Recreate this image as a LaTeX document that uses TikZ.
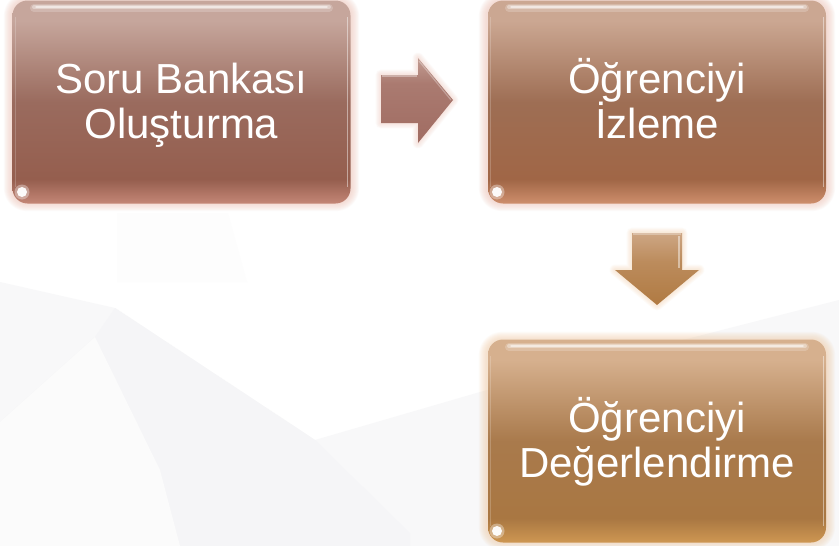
\documentclass[tikz,border=0pt]{standalone}
\usepackage{fontspec}
\setmainfont{Liberation Sans}
\usetikzlibrary{calc}
\definecolor{bgA}{HTML}{F8F8F9}
\definecolor{bgB}{HTML}{F5F5F7}
% box 1 colours
\definecolor{aTop}{HTML}{C6A69C}
\definecolor{aMid}{HTML}{9A6B5E}
\definecolor{aLow}{HTML}{955E4E}
\definecolor{aBot}{HTML}{C48676}
% box 2 colours
\definecolor{bTop}{HTML}{CBA792}
\definecolor{bMid}{HTML}{9E6E54}
\definecolor{bLow}{HTML}{A06646}
\definecolor{bBot}{HTML}{CE8E6C}
% box 3 colours
\definecolor{cTop}{HTML}{D6B08E}
\definecolor{cMid}{HTML}{A97A4C}
\definecolor{cLow}{HTML}{A97742}
\definecolor{cBot}{HTML}{CE9752}
% arrows
\definecolor{rTop}{HTML}{C29C92}
\definecolor{rBot}{HTML}{A06C62}
\definecolor{dTop}{HTML}{CDA684}
\definecolor{dBot}{HTML}{B07A42}
\definecolor{glowA}{HTML}{EFC3B6}
\definecolor{glowC}{HTML}{F2CDA8}
\pgfdeclareverticalshading{shA}{100bp}{color(0bp)=(aBot); color(25bp)=(aBot); color(31bp)=(aLow); color(50bp)=(aMid); color(70bp)=(aTop); color(75bp)=(aTop); color(100bp)=(aTop)}
\pgfdeclareverticalshading{shB}{100bp}{color(0bp)=(bBot); color(25bp)=(bBot); color(31bp)=(bLow); color(50bp)=(bMid); color(70bp)=(bTop); color(75bp)=(bTop); color(100bp)=(bTop)}
\pgfdeclareverticalshading{shC}{100bp}{color(0bp)=(cBot); color(25bp)=(cBot); color(31bp)=(cLow); color(50bp)=(cMid); color(70bp)=(cTop); color(75bp)=(cTop); color(100bp)=(cTop)}
\pgfdeclareverticalshading{shR}{100bp}{color(0bp)=(rBot); color(25bp)=(rBot); color(60bp)=(rBot!70!rTop); color(75bp)=(rTop); color(100bp)=(rTop)}
\pgfdeclareverticalshading{shD}{100bp}{color(0bp)=(dBot); color(25bp)=(dBot); color(55bp)=(dBot!60!dTop); color(75bp)=(dTop); color(100bp)=(dTop)}
\tikzset{
  stepbox/.style={rectangle, rounded corners=15pt, minimum width=338pt, minimum height=203pt,
    inner sep=0pt},
  boxtext/.style={anchor=base, inner sep=0pt, text=white, font=\fontsize{42}{45}\selectfont},
}
\newcommand\myglow[5]{% x1 y1 x2 y2 colour
  \foreach \k in {1,...,9}{
    \draw[#5, opacity=0.08, line width=\k*1.8pt, rounded corners=15pt] (#1,#2) rectangle (#3,#4);
  }}
\newcommand\mygloss[4]{% x1 y1 x2 y2
  \draw[white, opacity=.2, line width=8pt, line cap=round] ($(#1,#2)+(22,7)$) -- ($(#3,#2)+(-22,7)$);
  \draw[white, opacity=.35, line width=4pt, line cap=round] ($(#1,#2)+(22,6)$) -- ($(#3,#2)+(-22,6)$);
  \draw[white, opacity=.5, line width=1.5pt, line cap=round] ($(#1,#2)+(24,6)$) -- ($(#3,#2)+(-24,6)$);
  \draw[white, opacity=.45, line width=1.5pt] ($(#3,#2)+(-3.5,16)$) -- ($(#3,#4)+(-3.5,-16)$);
  \draw[white, opacity=.2, line width=1.5pt] ($(#1,#2)+(3.5,16)$) -- ($(#1,#4)+(3.5,-16)$);
  \fill[white, opacity=.35] ($(#1,#4)+(10,-11)$) circle (7.5pt);
  \fill[white, opacity=.95] ($(#1,#4)+(10,-11)$) circle (5pt);
}
\begin{document}
\begin{tikzpicture}[x=1pt,y=-1pt]
\useasboundingbox (0,0) rectangle (839,546);
\fill[white] (0,0) rectangle (839,546);
% faint background facets
\fill[bgA] (0,282) -- (115,308) -- (315,440) -- (480,392) -- (839,300) -- (839,546) -- (0,546) -- cycle;
\fill[bgB] (0,422) -- (95,337) -- (115,308) -- (315,440) -- (278,546) -- (0,546) -- cycle;
\fill[bgA!60!white] (0,422) -- (95,337) -- (160,470) -- (180,546) -- (0,546) -- cycle;
\fill[bgB] (315,440) -- (410,533) -- (410,546) -- (278,546) -- cycle;
\fill[bgA!25!white] (117,213) -- (228,213) -- (247,282) -- (117,282) -- cycle;
% glows
\myglow{12}{1}{351}{203}{glowA}
\myglow{487}{1}{827}{203}{glowA}
\myglow{487}{340}{827}{542}{glowC}
% boxes
\node[stepbox, shade, shading=shA] (b1) at (181.5,102) {};
\node[stepbox, shade, shading=shB] (b2) at (657,102) {};
\node[stepbox, shade, shading=shC] (b3) at (657,441) {};
\mygloss{12}{1}{351}{203}
\mygloss{487}{1}{827}{203}
\mygloss{487}{340}{827}{542}
% texts
\node[boxtext] (t1a) at ($(b1.center)+(0,-9)$) {Soru Bankası};
\node[boxtext] (t1b) at ($(b1.center)+(0,36)$) {Oluşturma};
\node[boxtext] (t2a) at ($(b2.center)+(0,-9)$) {Öğrenciyi};
\node[boxtext] (t2b) at ($(b2.center)+(0,36)$) {İzleme};
\node[boxtext] (t3a) at ($(b3.center)+(0,-9)$) {Öğrenciyi};
\node[boxtext] (t3b) at ($(b3.center)+(0,36)$) {Değerlendirme};
% arrow glows
\foreach \k in {1,...,6}{
  \draw[glowA, opacity=0.08, line width=\k*1.8pt, line join=round]
    (381,75) -- (418,75) -- (418,58) -- (453,100) -- (418,143) -- (418,123) -- (381,123) -- cycle;
  \draw[glowC, opacity=0.08, line width=\k*1.8pt, line join=round]
    (632,233) -- (682,233) -- (682,270) -- (699,270) -- (657,305) -- (615,270) -- (632,270) -- cycle;
}
% right arrow
\shade[shading=shR] (381,75) -- (418,75) -- (418,58) -- (453,100) -- (418,143) -- (418,123) -- (381,123) -- cycle;
\draw[white, opacity=.35, line width=1.2pt] (382,76) -- (417,76);
\draw[white, opacity=.3, line width=1.2pt] (419,61) -- (451,100);
% down arrow
\shade[shading=shD] (632,233) -- (682,233) -- (682,270) -- (699,270) -- (657,305) -- (615,270) -- (632,270) -- cycle;
\draw[white, opacity=.45, line width=1.5pt] (679,236) -- (679,268);
\draw[white, opacity=.3, line width=1.2pt] (633,234) -- (681,234);
\end{tikzpicture}
\end{document}
